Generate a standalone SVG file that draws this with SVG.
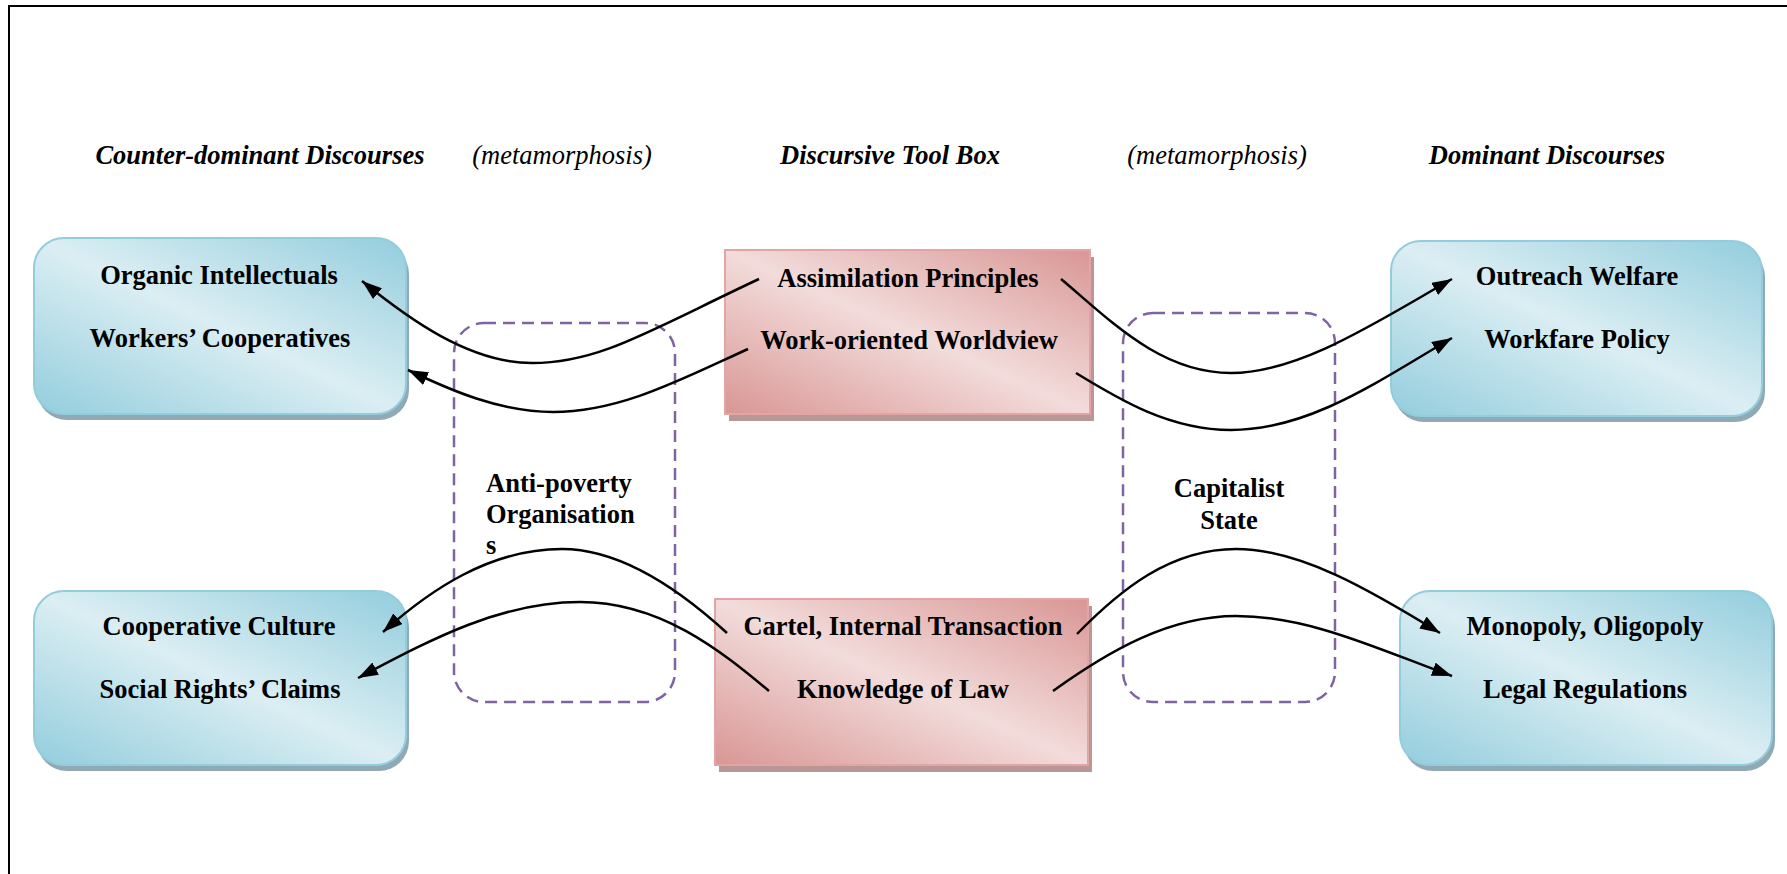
<svg xmlns="http://www.w3.org/2000/svg" width="1787" height="874" viewBox="0 0 1787 874">
  <defs>
    <linearGradient id="aqua" x1="0" y1="1" x2="1" y2="0">
      <stop offset="0" stop-color="#93CDDD"/>
      <stop offset="0.5" stop-color="#DBEEF3"/>
      <stop offset="1" stop-color="#93CDDD"/>
    </linearGradient>
    <linearGradient id="rose" x1="0" y1="1" x2="1" y2="0">
      <stop offset="0" stop-color="#D99694"/>
      <stop offset="0.5" stop-color="#F2DCDB"/>
      <stop offset="1" stop-color="#D99694"/>
    </linearGradient>
    <marker id="arrow" markerUnits="userSpaceOnUse" markerWidth="20" markerHeight="14" refX="20" refY="7" orient="auto">
      <path d="M0,0 L20,7 L0,14 z" fill="#000"/>
    </marker>
    <style>
      .t { font-family: "Liberation Serif", "Times New Roman", serif; font-size: 26.5px; font-weight: bold; fill: #000; }
      .mid { text-anchor: middle; }
      .head { font-style: italic; }
      .meta { font-family: "Liberation Serif", "Times New Roman", serif; font-size: 26.5px; font-style: italic; text-anchor: middle; fill: #000; }
      .blue { fill: url(#aqua); stroke: #93CDDD; stroke-width: 2; }
      .blue-sh { fill: #8FAAB5; }
      .pink { fill: url(#rose); stroke: #E3A5A4; stroke-width: 2; }
      .pink-sh { fill: #B99797; }
      .group { fill: none; stroke: #8064A2; stroke-width: 2.5; stroke-dasharray: 12 7; }
      .link { fill: none; stroke: #000; stroke-width: 2.5; marker-end: url(#arrow); }
    </style>
  </defs>

  <rect width="1787" height="874" fill="#fff"/>
  <!-- frame -->
  <path d="M9,874 V6 H1787" fill="none" stroke="#000" stroke-width="2"/>

  <!-- column headings -->
  <g id="headings">
    <text class="t mid head" x="260" y="164">Counter-dominant Discourses</text>
    <text class="meta" x="562" y="164">(metamorphosis)</text>
    <text class="t mid head" x="890" y="164">Discursive Tool Box</text>
    <text class="meta" x="1217" y="164">(metamorphosis)</text>
    <text class="t mid head" x="1547" y="164">Dominant Discourses</text>
  </g>

  <!-- dashed groupings -->
  <g id="anti-poverty">
    <rect class="group" x="454" y="323" width="221" height="379" rx="30"/>
    <text class="t" x="486" y="492">Anti-poverty</text>
    <text class="t" x="486" y="523">Organisation</text>
    <text class="t" x="486" y="554">s</text>
  </g>
  <g id="capitalist-state">
    <rect class="group" x="1123" y="313" width="212" height="389" rx="30"/>
    <text class="t mid" x="1229" y="497">Capitalist</text>
    <text class="t mid" x="1229" y="529">State</text>
  </g>

  <!-- counter-dominant side -->
  <g id="counter-top">
    <rect class="blue-sh" x="37" y="244" width="372" height="176" rx="30"/>
    <rect class="blue" x="34" y="238" width="372" height="176" rx="30"/>
    <text class="t mid" x="219" y="284">Organic Intellectuals</text>
    <text class="t mid" x="220" y="347">Workers’ Cooperatives</text>
  </g>
  <g id="counter-bottom">
    <rect class="blue-sh" x="37" y="597" width="372" height="174" rx="30"/>
    <rect class="blue" x="34" y="591" width="372" height="174" rx="30"/>
    <text class="t mid" x="219" y="635">Cooperative Culture</text>
    <text class="t mid" x="220" y="698">Social Rights’ Claims</text>
  </g>

  <!-- tool box -->
  <g id="toolbox-top">
    <rect class="pink-sh" x="729" y="257" width="365" height="164"/>
    <rect class="pink" x="725" y="250" width="365" height="164"/>
    <text class="t mid" x="908" y="287">Assimilation Principles</text>
    <text class="t mid" x="909" y="349">Work-oriented Worldview</text>
  </g>
  <g id="toolbox-bottom">
    <rect class="pink-sh" x="719" y="606" width="373" height="166"/>
    <rect class="pink" x="715" y="599" width="373" height="166"/>
    <text class="t mid" x="903" y="635">Cartel, Internal Transaction</text>
    <text class="t mid" x="903" y="698">Knowledge of Law</text>
  </g>

  <!-- dominant side -->
  <g id="dominant-top">
    <rect class="blue-sh" x="1394" y="247" width="371" height="175" rx="30"/>
    <rect class="blue" x="1391" y="241" width="371" height="175" rx="30"/>
    <text class="t mid" x="1577" y="285">Outreach Welfare</text>
    <text class="t mid" x="1577" y="348">Workfare Policy</text>
  </g>
  <g id="dominant-bottom">
    <rect class="blue-sh" x="1403" y="597" width="372" height="174" rx="30"/>
    <rect class="blue" x="1400" y="591" width="372" height="174" rx="30"/>
    <text class="t mid" x="1585" y="635">Monopoly, Oligopoly</text>
    <text class="t mid" x="1585" y="698">Legal Regulations</text>
  </g>

  <!-- metamorphosis paths -->
  <g id="connectors">
    <path class="link" d="M759,279 C650,330 600,363 532,363 C470,363 410,320 362,281"/>
    <path class="link" d="M748,349 C680,380 620,412 553,412 C500,412 450,390 408,370"/>
    <path class="link" d="M1061,279 C1110,320 1160,373 1231,373 C1300,373 1380,320 1452,279"/>
    <path class="link" d="M1076,373 C1120,400 1170,430 1231,430 C1310,430 1380,380 1452,338"/>
    <path class="link" d="M727,633 C680,590 620,549 562,549 C490,549 430,590 383,632"/>
    <path class="link" d="M769,691 C720,650 660,602 580,602 C500,602 430,640 358,678"/>
    <path class="link" d="M1077,634 C1120,590 1170,549 1236,549 C1300,549 1370,590 1440,633"/>
    <path class="link" d="M1053,691 C1110,650 1170,616 1236,616 C1310,616 1380,650 1452,676"/>
  </g>
</svg>
